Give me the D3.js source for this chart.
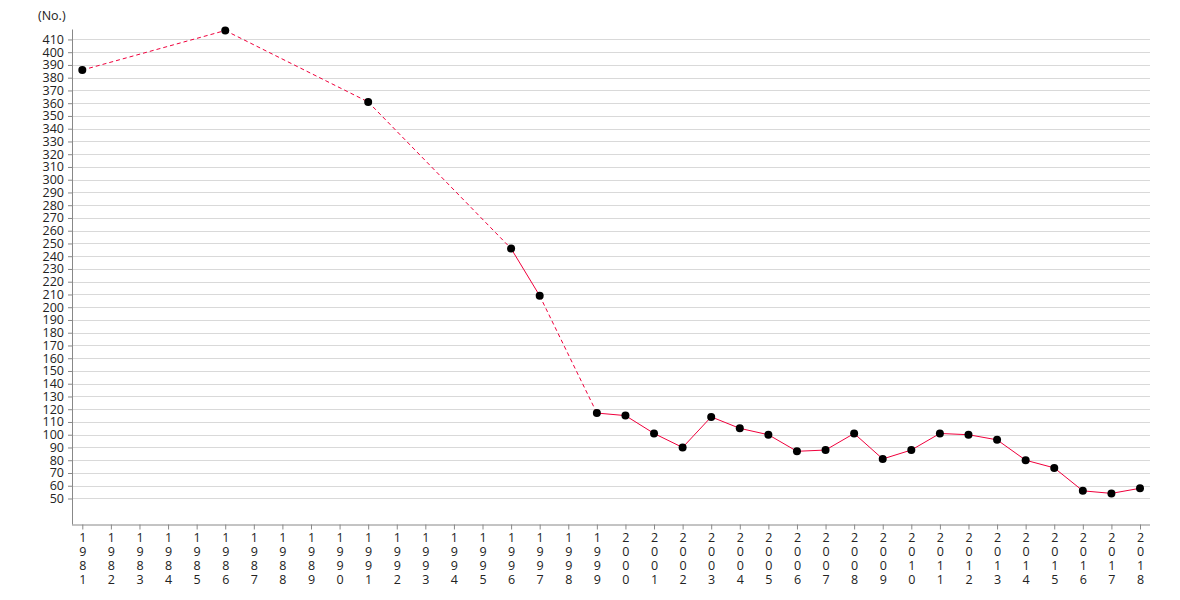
<!DOCTYPE html>
<html><head><meta charset="utf-8">
<script src="https://cdn.jsdelivr.net/npm/d3@7"></script>
<style>body{margin:0;background:#fff;} text{font-family:"Open Sans",sans-serif;}</style>
</head><body><svg id="c" width="1180" height="600"></svg>
<script>
const years = [];
for (let yr = 1981; yr <= 2018; yr++) years.push(String(yr));
const dataYears = ["1981","1986","1991","1996","1997","1999","2000","2001","2002","2003","2004","2005","2006","2007","2008","2009","2010","2011","2012","2013","2014","2015","2016","2017","2018"];
const values = [386,417,361,246,209,117,115,101,90,114,105,100,87,88,101,81,88,101,100,96,80,74,56,54,58];
const yTicks = [50,60,70,80,90,100,110,120,130,140,150,160,170,180,190,200,210,220,230,240,250,260,270,280,290,300,310,320,330,340,350,360,370,380,390,400,410];
const yUnit = "(No.)";

(function(){
const svg = d3.select("#c");
const mLeft = 72, mRight = 1150, mTop = 29.5, mBottom = 524.5;
const x = d3.scalePoint().domain(years).range([82.3, 1140]);
const y = d3.scaleLinear().domain([29.6, 417.8]).range([mBottom, mTop]);

svg.append("g").selectAll("line").data(yTicks).join("line")
  .attr("x1", mLeft).attr("x2", mRight)
  .attr("y1", d => Math.round(y(d)) + 0.5).attr("y2", d => Math.round(y(d)) + 0.5)
  .attr("stroke", "#d9d9d9").attr("stroke-width", 1);

const ya = svg.append("g").attr("transform", `translate(${mLeft},0)`)
  .call(d3.axisLeft(y).tickValues(yTicks).tickSize(4).tickSizeOuter(0).tickFormat(d3.format("d")));
ya.select(".domain").attr("stroke", "#888").attr("d", `M0.5,${mTop}V${mBottom}`);
ya.selectAll(".tick line").attr("stroke", "#888");
ya.selectAll(".tick text").attr("font-size", 12.5).attr("fill", "#222").attr("x", -8)
  .attr("font-family", "Open Sans");

const xa = svg.append("g").attr("transform", `translate(0,${mBottom})`)
  .call(d3.axisBottom(x).tickSize(5).tickSizeOuter(0));
xa.select(".domain").attr("stroke", "#888").attr("d", `M${mLeft},0.5H${mRight}`);
xa.selectAll(".tick line").attr("stroke", "#888");
xa.selectAll(".tick text").each(function(d) {
  const t = d3.select(this);
  t.text(null).attr("font-size", 12.5).attr("fill", "#222").attr("font-family", "Open Sans").attr("y", 0).attr("dy", null);
  d.split("").forEach((ch, i) => {
    t.append("tspan").attr("x", 0).attr("y", 17 + i * 14).text(ch);
  });
});

const pts = dataYears.map((yr, i) => ({yr, v: values[i], idx: years.indexOf(yr)}));
for (let i = 0; i < pts.length - 1; i++) {
  const a = pts[i], b = pts[i + 1];
  const gap = b.idx - a.idx > 1;
  svg.append("line")
    .attr("x1", x(a.yr)).attr("y1", y(a.v)).attr("x2", x(b.yr)).attr("y2", y(b.v))
    .attr("stroke", "#f0003c").attr("stroke-width", 1)
    .attr("stroke-dasharray", gap ? "4,3" : null);
}
svg.append("g").selectAll("circle").data(pts).join("circle")
  .attr("cx", d => x(d.yr)).attr("cy", d => y(d.v)).attr("r", 4).attr("fill", "#000");

svg.append("text").attr("x", 38).attr("y", 20).attr("font-size", 12.5).attr("fill", "#222").text(yUnit);
})();
</script></body></html>
